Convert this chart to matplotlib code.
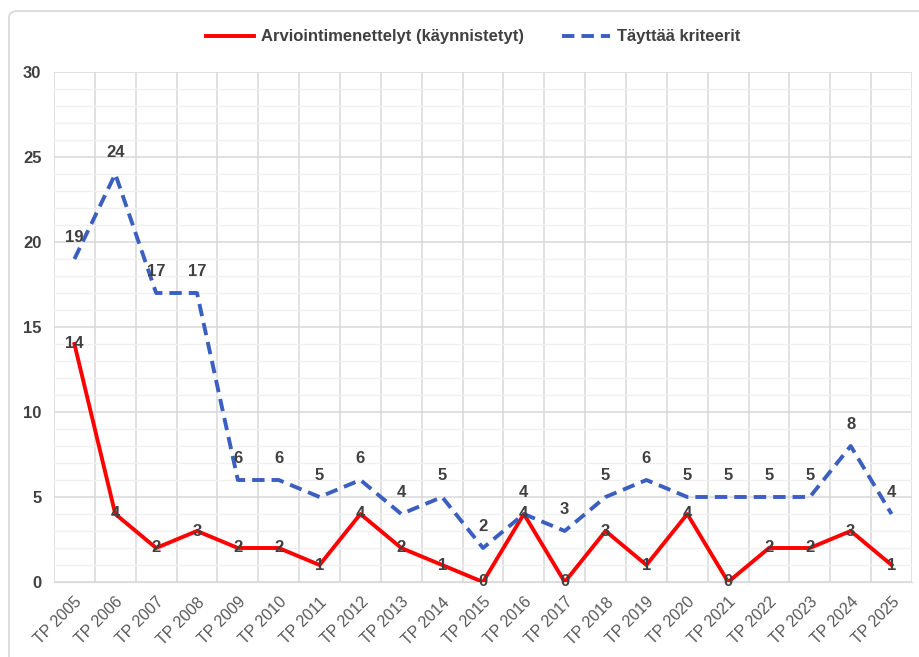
import matplotlib
matplotlib.use("Agg")
import matplotlib.pyplot as plt
from matplotlib.patches import FancyBboxPatch
from matplotlib.ticker import MultipleLocator

categories = ["TP 2005", "TP 2006", "TP 2007", "TP 2008", "TP 2009", "TP 2010", "TP 2011",
              "TP 2012", "TP 2013", "TP 2014", "TP 2015", "TP 2016", "TP 2017", "TP 2018",
              "TP 2019", "TP 2020", "TP 2021", "TP 2022", "TP 2023", "TP 2024", "TP 2025"]
arviointi = [14, 4, 2, 3, 2, 2, 1, 4, 2, 1, 0, 4, 0, 3, 1, 4, 0, 2, 2, 3, 1]
kriteerit = [19, 24, 17, 17, 6, 6, 5, 6, 4, 5, 2, 4, 3, 5, 6, 5, 5, 5, 5, 8, 4]
series_names = ["Arviointimenettelyt (käynnistetyt)", "Täyttää kriteerit"]

plt.rcParams['font.family'] = ['Liberation Sans', 'DejaVu Sans']
txt = '#404040'

fig = plt.figure(figsize=(9.2, 6.57), dpi=100)
border = FancyBboxPatch((9 / 920, -0.05), 1.2, 1 - 11 / 657 + 0.05,
                        boxstyle="round,pad=0,rounding_size=0.01",
                        transform=fig.transFigure, fill=False, edgecolor='#d9d9d9', linewidth=1.3)
fig.patches.append(border)

ax = fig.add_axes([54 / 920, 1 - 582 / 657, (912 - 54) / 920, (582 - 72) / 657])
x = list(range(len(categories)))

ax.plot(x, arviointi, color='#ff0000', linewidth=2.8, label=series_names[0], zorder=3)
ax.plot(x, kriteerit, color='#3a5fc0', linewidth=2.8, linestyle=(0, (3.2, 1.8)),
        label=series_names[1], zorder=3)

for xi, v in zip(x, arviointi):
    ax.annotate(str(v), (xi, v), ha='center', va='center', fontsize=12, fontweight='bold',
                color=txt, zorder=4)
for xi, v in zip(x, kriteerit):
    ax.annotate(str(v), (xi, v), xytext=(0, 15.5), textcoords='offset points', ha='center',
                va='center', fontsize=12, fontweight='bold', color=txt, zorder=4)

ax.set_xlim(-0.5, len(categories) - 0.5)
ax.set_ylim(0, 30)
ax.yaxis.set_major_locator(MultipleLocator(5))
ax.yaxis.set_minor_locator(MultipleLocator(1))
ax.set_xticks(x)
ax.set_xticks([i + 0.5 for i in range(-1, len(categories))], minor=True)
ax.set_xticklabels(categories, rotation=45, ha='right', rotation_mode='anchor',
                   fontsize=11.5, color='#595959')
ax.tick_params(axis='x', which='both', length=0, pad=9)
ax.tick_params(axis='y', which='both', length=0, pad=9, labelsize=12, labelcolor=txt)
for lab in ax.get_yticklabels():
    lab.set_fontweight('bold')

ax.grid(axis='y', which='major', color='#d9d9d9', linewidth=1.1, zorder=0)
ax.grid(axis='y', which='minor', color='#f0f0f0', linewidth=1.0, zorder=0)
ax.grid(axis='x', which='minor', color='#d9d9d9', linewidth=1.1, zorder=0)
ax.grid(axis='x', which='major', visible=False)
for s in ['top', 'right', 'left']:
    ax.spines[s].set_visible(False)
ax.spines['bottom'].set_color('#d9d9d9')
ax.set_axisbelow(True)

leg = fig.legend(loc='center', bbox_to_anchor=(0.514, 1 - 37 / 657), ncol=2, frameon=False,
                 prop={'weight': 'bold', 'size': 12}, handlelength=2.9, columnspacing=2.3,
                 handletextpad=0.4)
for t in leg.get_texts():
    t.set_color(txt)

fig.savefig('out.png', dpi=100)
